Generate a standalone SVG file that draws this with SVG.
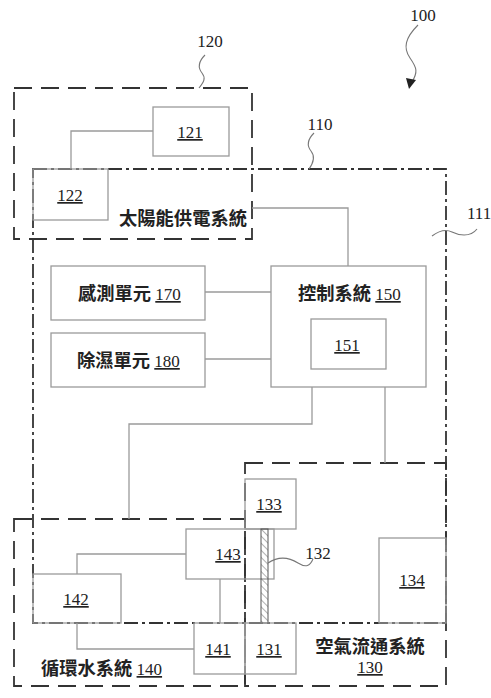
<svg xmlns="http://www.w3.org/2000/svg" width="491" height="698" viewBox="0 0 491 698">
<defs>
<style>
.box{fill:none;stroke:#9a9a9a;stroke-width:1.3}
.con{fill:none;stroke:#9a9a9a;stroke-width:1.3}
.dash{fill:none;stroke:#333;stroke-width:1.8;stroke-dasharray:18 9}
.dashdot{fill:none;stroke:#333;stroke-width:1.8;stroke-dasharray:14 4 3 4}
.lead{fill:none;stroke:#777;stroke-width:1.1}
.num{font-family:"Liberation Serif","Times New Roman",serif;font-size:17px;font-weight:normal;fill:#222}
.cjk{font-family:"Noto Sans CJK TC","Noto Sans CJK SC",sans-serif;font-size:18.3px;font-weight:bold;fill:#222}
.u{text-decoration:underline}
</style>
<pattern id="hatch" patternUnits="userSpaceOnUse" width="5" height="5" patternTransform="rotate(-45)">
<line x1="0" y1="0" x2="0" y2="5" stroke="#666" stroke-width="1"/>
</pattern>
</defs>
<rect width="491" height="698" fill="#fff"/>

<g id="s120"><rect class="dash" x="14" y="88" width="238" height="151"/>
<path class="lead" d="M205,55 C198,62 198,68 202,73 S204,82 199,88"/>
<text class="num" x="210" y="47" text-anchor="middle">120</text></g>

<g id="s110"><rect class="dashdot" x="33" y="169" width="413" height="454"/>
<path class="lead" d="M314,133 C307,140 307,146 311,151 S314,162 309,169"/>
<text class="num" x="320" y="130" text-anchor="middle">110</text>
<text class="cjk" x="247" y="225" text-anchor="end">太陽能供電系統</text></g>

<g id="s111"><path class="lead" d="M432,236 C440,230 446,229 452,232 S470,238 477,229"/>
<text class="num" x="467" y="219">111</text></g>

<g id="s100"><path class="lead" d="M418,25 C405,38 403,48 410,58 S418,72 412,82"/>
<polygon points="409,89 406,78 416,80" fill="#222"/>
<text class="num" x="423" y="21" text-anchor="middle">100</text></g>

<g id="s130"><rect class="dash" x="245" y="463" width="201" height="223"/>
<text class="cjk" x="370" y="653" text-anchor="middle">空氣流通系統</text>
<text class="num u" x="370" y="673" text-anchor="middle">130</text></g>

<g id="s140"><rect class="dash" x="14" y="519" width="231" height="167"/>
<text class="cjk" x="41" y="675">循環水系統 <tspan class="num u">140</tspan></text></g>

<g id="connectors">
<path class="con" d="M153,131 H71 V169"/>
<path class="con" d="M252,208 H348 V266"/>
<path class="con" d="M205,292 H271"/>
<path class="con" d="M205,359 H271"/>
<path class="con" d="M312,387 V424 H129 V519"/>
<path class="con" d="M385,387 V463"/>
<path class="con" d="M186,554 H77 V574"/>
<path class="con" d="M77,623 V649 H194"/>
<path class="con" d="M220,579 V623"/>
</g>

<g id="n121"><rect class="box" x="153" y="107" width="76" height="49"/><text class="num u" x="190" y="138" text-anchor="middle">121</text></g>
<g id="n122"><rect class="box" x="33" y="169" width="75" height="51"/><text class="num u" x="70" y="201" text-anchor="middle">122</text></g>
<g id="n170"><rect class="box" x="51" y="266" width="154" height="54"/><text class="cjk" x="78" y="300">感測單元 <tspan class="num u">170</tspan></text></g>
<g id="n180"><rect class="box" x="51" y="333" width="154" height="54"/><text class="cjk" x="77" y="367">除濕單元 <tspan class="num u">180</tspan></text></g>
<g id="n150"><rect class="box" x="271" y="266" width="155" height="121"/><text class="cjk" x="298" y="300">控制系統 <tspan class="num u">150</tspan></text></g>
<g id="n151"><rect class="box" x="311" y="319" width="75" height="50"/><text class="num u" x="347" y="351" text-anchor="middle">151</text></g>
<g id="n133"><rect class="box" x="245" y="479" width="51" height="50"/><text class="num u" x="269" y="510" text-anchor="middle">133</text></g>
<g id="n143"><rect class="box" x="186" y="529" width="88" height="50"/><text class="num u" x="228" y="560" text-anchor="middle">143</text></g>
<g id="n132"><rect x="261" y="529" width="7" height="94" fill="url(#hatch)" stroke="#555" stroke-width="1"/>
<path class="lead" d="M268,563 C280,555 290,558 298,563 S310,566 313,559"/>
<text class="num" x="318" y="559" text-anchor="middle">132</text></g>
<g id="n134"><rect class="box" x="379" y="538" width="67" height="85"/><text class="num u" x="412" y="586" text-anchor="middle">134</text></g>
<g id="n142"><rect class="box" x="33" y="574" width="88" height="49"/><text class="num u" x="76" y="605" text-anchor="middle">142</text></g>
<g id="n141"><rect class="box" x="194" y="623" width="51" height="51"/><text class="num u" x="218" y="655" text-anchor="middle">141</text></g>
<g id="n131"><rect class="box" x="245" y="623" width="51" height="51"/><text class="num u" x="269" y="655" text-anchor="middle">131</text></g>
</svg>
